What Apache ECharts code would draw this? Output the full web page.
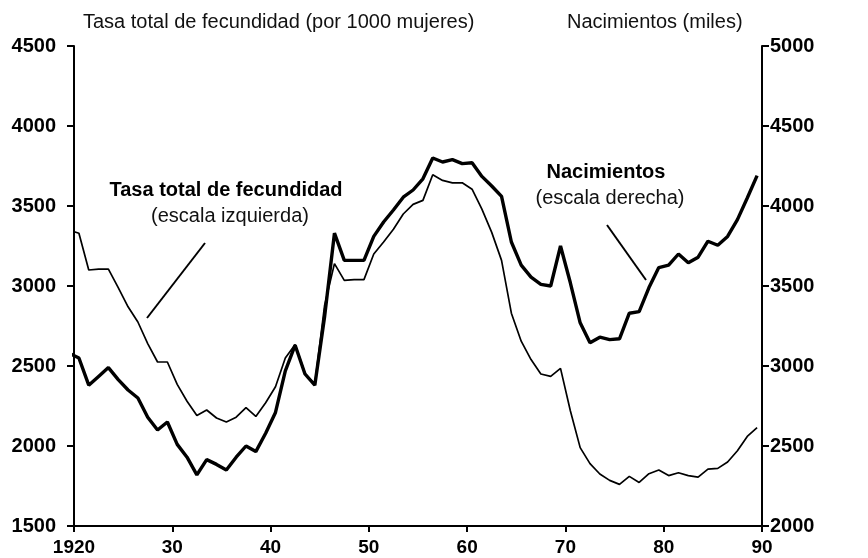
<!DOCTYPE html>
<html>
<head>
<meta charset="utf-8">
<script src="https://cdn.jsdelivr.net/npm/echarts/dist/echarts.min.js"></script>
<style>
  html, body { margin: 0; padding: 0; background: #fff; }
  #chart { width: 868px; height: 558px; }
</style>
</head>
<body>
<div id="chart"></div>
<script>
// años 1920-1990
var years = [];
for (var y = 1920; y <= 1990; y++) years.push(y);

// Tasa total de fecundidad (por 1000 mujeres), escala izquierda
var fecundidad = [
  3350, 3330, 3100, 3105, 3105, 2990, 2870, 2775, 2640, 2525,
  2525, 2385, 2280, 2190, 2225, 2175, 2150, 2180, 2240, 2185,
  2270, 2370, 2550, 2635, 2455, 2385, 2880, 3140, 3035, 3040,
  3040, 3200, 3275, 3355, 3450, 3510, 3535, 3695, 3660, 3645,
  3645, 3605, 3480, 3335, 3160, 2830, 2655, 2540, 2450, 2435,
  2485, 2220, 1990, 1890, 1825, 1785, 1760, 1810, 1772, 1827,
  1850, 1815, 1833, 1815, 1805, 1855, 1860, 1900, 1970, 2060,
  2115
];

// Nacimientos (miles), escala derecha
var nacimientos = [
  3080, 3050, 2880, 2935, 2990, 2915, 2850, 2800, 2680, 2600,
  2650, 2510, 2430, 2320, 2415, 2385, 2350, 2430, 2500, 2465,
  2580, 2710, 2970, 3130, 2950, 2880, 3310, 3830, 3660, 3660,
  3660, 3810, 3900, 3975, 4055, 4100, 4170, 4300, 4275, 4290,
  4265, 4270, 4185, 4125, 4060, 3775, 3630, 3555, 3510, 3500,
  3750, 3520, 3270, 3145, 3180, 3165, 3170, 3330, 3340, 3490,
  3615, 3630, 3700, 3645, 3680, 3780, 3755, 3810, 3915, 4050,
  4190
];

var leftTicks = [1500, 2000, 2500, 3000, 3500, 4000, 4500];
var rightTicks = [2000, 2500, 3000, 3500, 4000, 4500, 5000];

var FONT = '"Liberation Sans", Arial, Helvetica, sans-serif';

var chart = echarts.init(document.getElementById('chart'));

function pairs(vals) {
  return years.map(function (yr, i) { return [yr, vals[i]]; });
}

function plain(v) { return String(v); }

chart.setOption({
  animation: false,
  backgroundColor: '#fff',
  textStyle: { fontFamily: FONT },
  grid: { left: 74, right: 106, top: 46, bottom: 32 },
  xAxis: [{
    type: 'value',
    min: 1920,
    max: 1990,
    interval: 10,
    axisLine: { lineStyle: { color: '#000', width: 2 } },
    axisTick: { length: 6, lineStyle: { color: '#000', width: 2 } },
    axisLabel: {
      color: '#000', fontSize: 19, fontWeight: 'bold', fontFamily: FONT, margin: 12,
      formatter: function (v) { return v === 1920 ? '1920' : String(v % 100); }
    },
    splitLine: { show: false }
  }, {
    // los datos están dibujados medio año a la izquierda de las marcas
    type: 'value',
    min: 1920.5,
    max: 1990.5,
    show: false,
    splitLine: { show: false }
  }],
  yAxis: [{
    type: 'value',
    position: 'left',
    min: leftTicks[0],
    max: leftTicks[leftTicks.length - 1],
    interval: 500,
    axisLine: { show: true, lineStyle: { color: '#000', width: 2 } },
    axisTick: { show: true, length: 7, lineStyle: { color: '#000', width: 2 } },
    axisLabel: { color: '#000', fontSize: 20, fontWeight: 'bold', fontFamily: FONT, margin: 18, formatter: plain },
    splitLine: { show: false }
  }, {
    type: 'value',
    position: 'right',
    min: rightTicks[0],
    max: rightTicks[rightTicks.length - 1],
    interval: 500,
    axisLine: { show: true, lineStyle: { color: '#000', width: 2 } },
    axisTick: { show: true, length: 7, lineStyle: { color: '#000', width: 2 } },
    axisLabel: { color: '#000', fontSize: 20, fontWeight: 'bold', fontFamily: FONT, margin: 8, formatter: plain },
    splitLine: { show: false }
  }],
  series: [{
    name: 'Tasa total de fecundidad',
    type: 'line',
    xAxisIndex: 1,
    yAxisIndex: 0,
    data: pairs(fecundidad),
    showSymbol: false,
    clip: true,
    lineStyle: { color: '#000', width: 1.7 },
    z: 2
  }, {
    name: 'Nacimientos',
    type: 'line',
    xAxisIndex: 1,
    yAxisIndex: 1,
    data: pairs(nacimientos),
    showSymbol: false,
    clip: true,
    lineStyle: { color: '#000', width: 3.4 },
    z: 3
  }],
  graphic: [
    { type: 'text', left: 83, top: 12,
      style: { text: 'Tasa total de fecundidad (por 1000 mujeres)', fill: '#111', font: '20px ' + FONT } },
    { type: 'text', left: 567, top: 12,
      style: { text: 'Nacimientos (miles)', fill: '#111', font: '20px ' + FONT } },

    { type: 'text', x: 226, y: 190,
      style: { text: 'Tasa total de fecundidad', fill: '#000', font: 'bold 20px ' + FONT,
               align: 'center', verticalAlign: 'middle' } },
    { type: 'text', x: 230, y: 216,
      style: { text: '(escala izquierda)', fill: '#111', font: '20px ' + FONT,
               align: 'center', verticalAlign: 'middle' } },
    { type: 'line', shape: { x1: 205, y1: 243, x2: 147, y2: 318 },
      style: { stroke: '#000', lineWidth: 2 } },

    { type: 'text', x: 606, y: 172,
      style: { text: 'Nacimientos', fill: '#000', font: 'bold 20px ' + FONT,
               align: 'center', verticalAlign: 'middle' } },
    { type: 'text', x: 610, y: 198,
      style: { text: '(escala derecha)', fill: '#111', font: '20px ' + FONT,
               align: 'center', verticalAlign: 'middle' } },
    { type: 'line', shape: { x1: 607, y1: 225, x2: 646, y2: 280 },
      style: { stroke: '#000', lineWidth: 2 } }
  ]
});
</script>
</body>
</html>
